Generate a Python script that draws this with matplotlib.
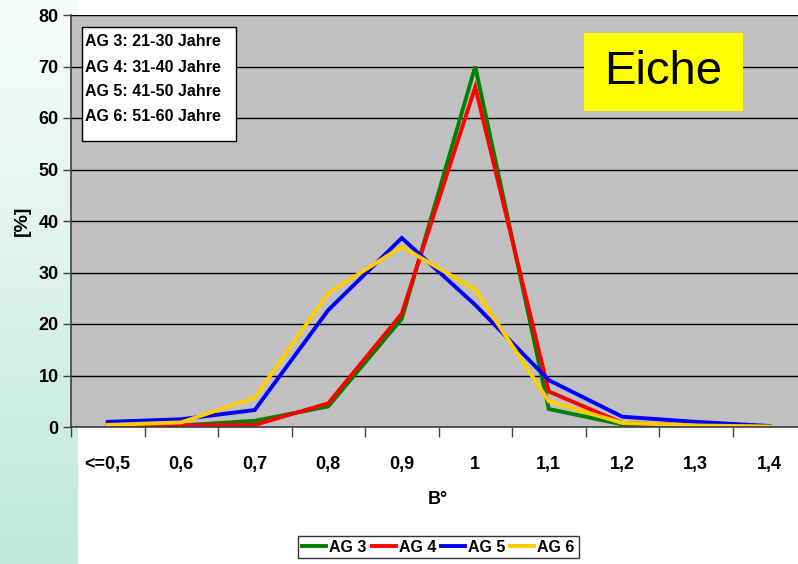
import numpy as np
import matplotlib.pyplot as plt
from matplotlib.patches import Rectangle

# categories on the x axis (B°)
cats = ['<=0,5', '0,6', '0,7', '0,8', '0,9', '1', '1,1', '1,2', '1,3', '1,4']

# percentages per age group
ag3 = [0.4, 0.3, 1.2, 4.0, 21.0, 70.0, 3.5, 0.5, 0.2, 0.0]
ag4 = [0.2, 0.3, 0.4, 4.6, 22.0, 66.0, 6.9, 0.8, 0.3, 0.0]
ag5 = [1.0, 1.5, 3.3, 22.7, 36.7, 23.7, 9.1, 2.0, 1.0, 0.2]
ag6 = [0.4, 0.9, 5.7, 26.0, 35.0, 26.7, 5.0, 0.8, 0.3, 0.1]

series = [('AG 3', ag3, '#008000'), ('AG 4', ag4, '#ff0000'),
          ('AG 5', ag5, '#0000ff'), ('AG 6', ag6, '#ffcc00')]

info_lines = ['AG 3: 21-30 Jahre', 'AG 4: 31-40 Jahre',
              'AG 5: 41-50 Jahre', 'AG 6: 51-60 Jahre']

plt.rcParams['font.family'] = ['Liberation Sans', 'DejaVu Sans']

W, H = 798, 564
fig = plt.figure(figsize=(W / 100, H / 100), dpi=100)

def fx(px):
    return px / W

def fy(py):
    return 1 - py / H

# gradient strip at the left
bg = fig.add_axes([0, 0, 78 / W, 1], zorder=-5)
top = np.array([0.97, 0.99, 0.985])
bot = np.array([0.75, 0.91, 0.86])
t = np.linspace(0, 1, 256)[:, None]
grad = (top * (1 - t) + bot * t)[:, None, :]
bg.imshow(grad, aspect='auto', extent=[0, 1, 0, 1])
bg.axis('off')

ax = fig.add_axes([fx(71), fy(427), 735 / W, 412 / H])
ax.set_facecolor('#c0c0c0')

x = np.arange(len(cats))
for name, vals, col in series:
    ax.plot(x, vals, color=col, lw=2.8, label=name, solid_joinstyle='miter')

ax.set_xlim(-0.5, len(cats) - 0.5)
ax.set_ylim(0, 80)
ax.set_yticks(range(0, 81, 10))
ax.set_yticklabels([str(v) for v in range(0, 81, 10)], fontsize=13, fontweight='bold')
ax.set_xticks(x)
ax.set_xticklabels(cats, fontsize=13, fontweight='bold')
ax.set_xticks(np.arange(-0.5, len(cats), 1), minor=True)
ax.tick_params(axis='x', which='major', length=0, pad=21)
ax.tick_params(axis='x', which='minor', length=7, color='#404040', width=1)
ax.tick_params(axis='y', length=6, color='#404040', width=1, pad=3)
ax.grid(axis='y', color='black', lw=1)
ax.set_axisbelow(True)
for s in ['top', 'right']:
    ax.spines[s].set_visible(False)
for s in ['left', 'bottom']:
    ax.spines[s].set_color('#404040')
    ax.spines[s].set_linewidth(1.2)

# axis titles
fig.text(fx(438), fy(500), 'B°', fontsize=13, fontweight='bold', ha='center', va='center')
fig.text(fx(22), fy(221), '[%]', fontsize=14, fontweight='bold', ha='center', va='center',
         rotation=90)

# info box
fig.add_artist(Rectangle((fx(82), fy(141)), 154 / W, 114 / H, transform=fig.transFigure,
                         facecolor='white', edgecolor='black', lw=1, zorder=3))
for i, line in enumerate(info_lines):
    fig.text(fx(85), fy(42 + 25 * i), line, fontsize=11.5, fontweight='bold',
             ha='left', va='center', zorder=4)

# species label
fig.add_artist(Rectangle((fx(584), fy(111)), 159 / W, 78 / H, transform=fig.transFigure,
                         facecolor='#ffff00', edgecolor='none', zorder=3))
fig.text(fx(663.5), fy(72), 'Eiche', fontsize=34, ha='center', va='center', zorder=4)

leg = fig.legend(loc='center', bbox_to_anchor=(fx(438.5), fy(547)), ncol=4,
                 prop={'weight': 'bold', 'size': 11.5}, frameon=True, fancybox=False,
                 handlelength=1.5, handletextpad=0.2, columnspacing=0.3,
                 borderpad=0.25, borderaxespad=0)
leg.get_frame().set_edgecolor('black')
leg.get_frame().set_linewidth(1)

fig.savefig('out.png', dpi=100)
